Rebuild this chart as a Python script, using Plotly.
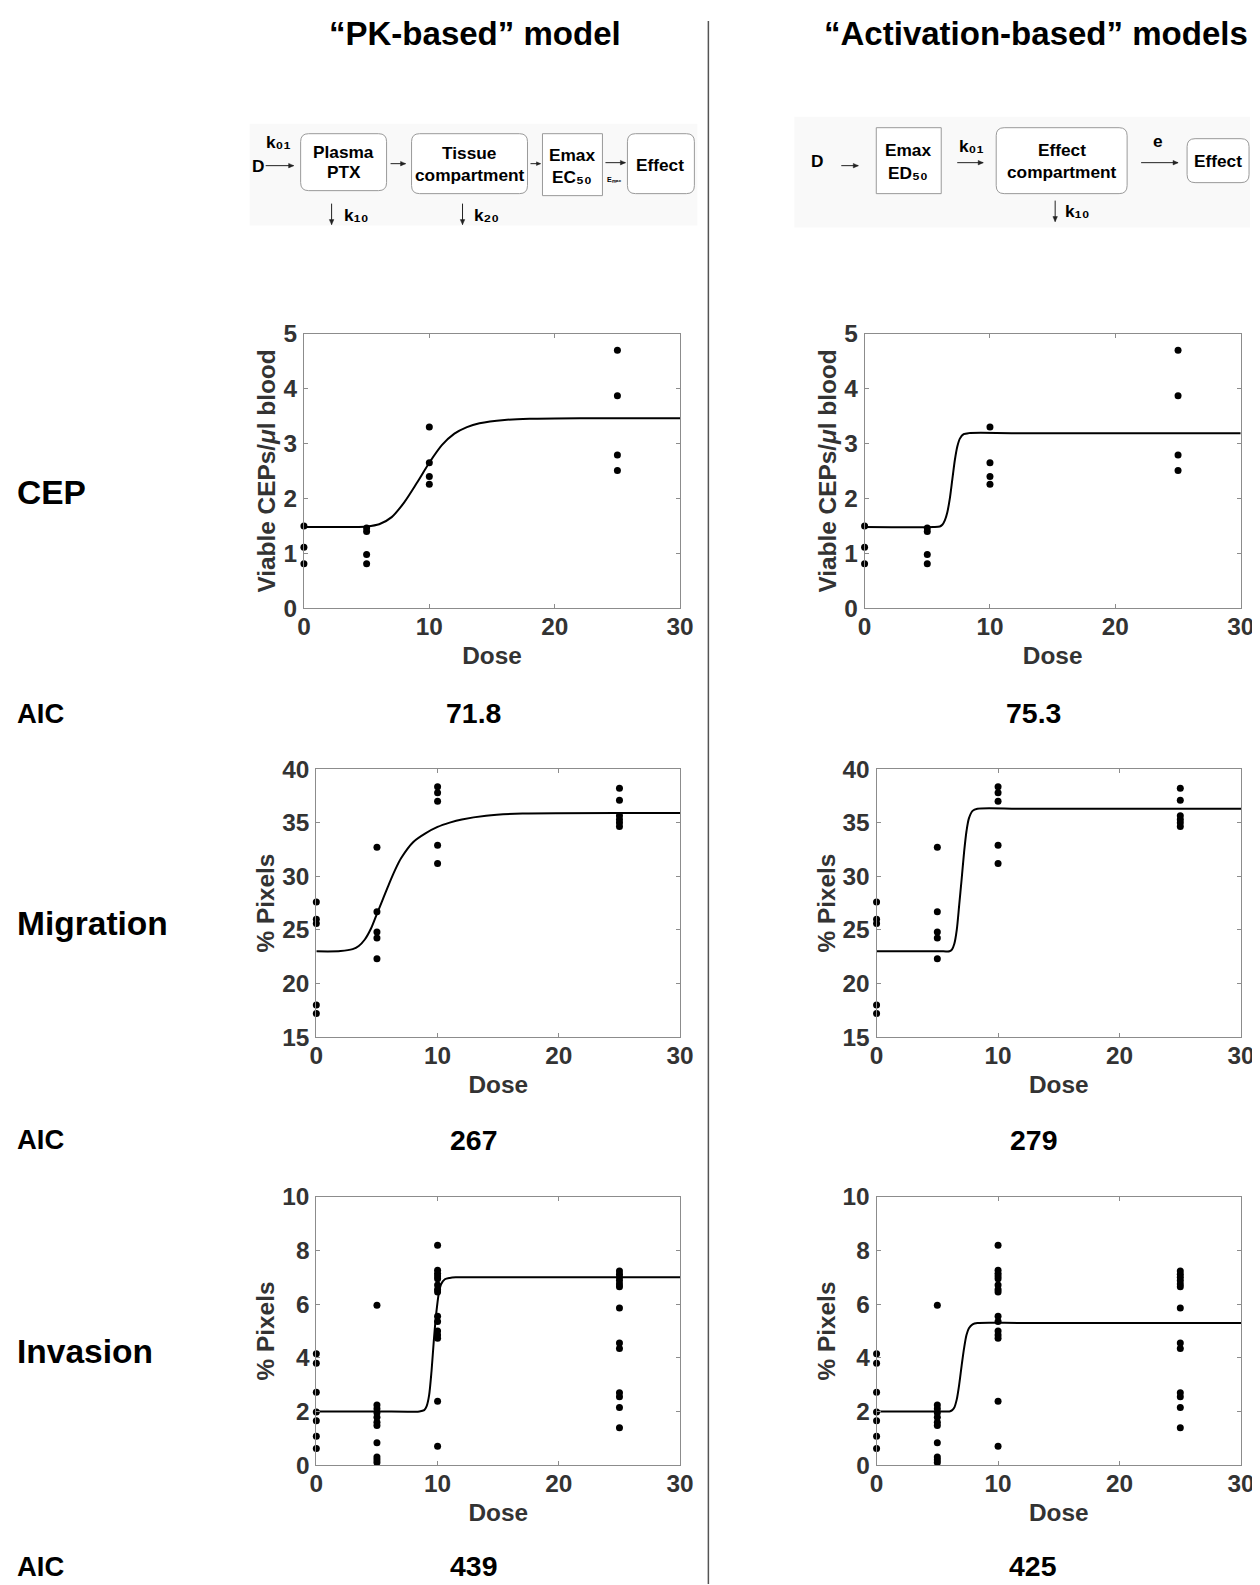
import plotly.graph_objects as go

# figure size, and the measured placement of the figure in the photographed page
W, H = 1265, 1590
OFFX, OFFY, S = 15.2, 21.2, 0.984
FONT = "Liberation Sans, Arial, Helvetica, sans-serif"

# ---------------- data ----------------
cep_dose = [0, 0, 0, 5, 5, 5, 5, 10, 10, 10, 10, 25, 25, 25, 25]
cep_obs = [1.50, 1.11, 0.81, 1.46, 1.40, 0.98, 0.81, 3.30, 2.65, 2.40, 2.26, 4.70, 3.87, 2.79, 2.51]

mig_dose = [0, 0, 0, 0, 0, 5, 5, 5, 5, 5, 10, 10, 10, 10, 10, 25, 25, 25, 25, 25, 25]
mig_obs = [27.6, 26.0, 25.6, 18.0, 17.2, 32.7, 26.7, 24.8, 24.25, 22.3,
           38.35, 37.8, 37.0, 32.9, 31.2, 38.2, 37.1, 35.65, 35.3, 35.0, 34.65]

inv_dose = [0] * 7 + [5] * 11 + [10] * 15 + [25] * 13
inv_obs = [4.15, 3.80, 2.72, 1.98, 1.65, 1.07, 0.62,
           5.96, 2.24, 2.10, 1.95, 1.78, 1.60, 1.48, 0.83, 0.30, 0.20, 0.10,
           8.20, 7.27, 7.15, 7.05, 6.95, 6.72, 6.55, 6.45, 5.55, 5.35, 5.00, 4.85, 4.73, 2.38, 0.70,
           7.24, 7.12, 7.00, 6.88, 6.75, 6.65, 5.86, 4.55, 4.35, 2.70, 2.55, 2.15, 1.39]

# fitted curves
pk_cep_x = [0, 2, 4, 5, 6, 7, 8, 9, 10, 11, 12, 13, 14, 16, 18, 22, 30]
pk_cep_y = [1.48, 1.48, 1.48, 1.49, 1.53, 1.66, 1.93, 2.28, 2.65, 2.97, 3.18, 3.30, 3.37, 3.43, 3.45, 3.46, 3.46]
act_cep_x = [0, 5.5, 6.0, 6.2, 6.4, 6.6, 6.8, 7.0, 7.2, 7.4, 7.6, 7.9, 8.3, 12, 30]
act_cep_y = [1.48, 1.48, 1.49, 1.52, 1.60, 1.75, 2.00, 2.35, 2.70, 2.95, 3.09, 3.17, 3.19, 3.19, 3.19]

pk_mig_x = [0, 2, 3, 3.5, 4, 4.5, 5, 5.5, 6, 6.5, 7, 8, 9, 10, 11, 12, 14, 17, 30]
pk_mig_y = [23.0, 23.02, 23.2, 23.5, 24.1, 25.1, 26.5, 27.9, 29.3, 30.6, 31.7, 33.2, 34.0, 34.6, 35.0, 35.3, 35.65, 35.85, 35.9]
act_mig_x = [0, 5.5, 6.0, 6.2, 6.4, 6.6, 6.8, 7.0, 7.2, 7.4, 7.6, 7.9, 8.3, 12, 30]
act_mig_y = [23.0, 23.0, 23.0, 23.15, 23.7, 25.0, 27.3, 29.7, 32.2, 34.2, 35.4, 36.1, 36.3, 36.3, 36.3]

pk_inv_x = [0, 5, 8.5, 8.9, 9.1, 9.3, 9.5, 9.7, 9.9, 10.1, 10.3, 10.6, 11.0, 11.5, 20, 30]
pk_inv_y = [2.0, 2.0, 2.0, 2.05, 2.2, 2.6, 3.5, 4.7, 5.7, 6.4, 6.75, 6.93, 6.98, 7.0, 7.0, 7.0]
act_inv_x = [0, 5.5, 6.0, 6.2, 6.4, 6.6, 6.8, 7.0, 7.2, 7.4, 7.6, 7.9, 8.3, 12, 30]
act_inv_y = [2.0, 2.0, 2.0, 2.04, 2.15, 2.45, 3.0, 3.7, 4.35, 4.85, 5.1, 5.25, 5.3, 5.3, 5.3]

x_ticks = [0, 10, 20, 30]
cep_ticks = [0, 1, 2, 3, 4, 5]
mig_ticks = [15, 20, 25, 30, 35, 40]
inv_ticks = [0, 2, 4, 6, 8, 10]

row_labels = ["CEP", "Migration", "Invasion"]
col_titles = ["\u201cPK-based\u201d model", "\u201cActivation-based\u201d models"]
aic_pk = ["71.8", "267", "439"]
aic_act = ["75.3", "279", "425"]

# ---------------- helpers (page pixel -> paper) ----------------
def X(px):
    return ((px - OFFX) / S) / W

def Y(py):
    return 1 - ((py - OFFY) / S) / H

def fs(v):
    return v / S

fig = go.Figure()

panels = [
    (cep_dose, cep_obs, pk_cep_x, pk_cep_y, [0, 5], cep_ticks, "Viable CEPs/<i>\u03bc</i>l blood", (304.3, 334.3, 680.7, 609.0)),
    (cep_dose, cep_obs, act_cep_x, act_cep_y, [0, 5], cep_ticks, "Viable CEPs/<i>\u03bc</i>l blood", (865.3, 334.3, 1241.7, 609.0)),
    (mig_dose, mig_obs, pk_mig_x, pk_mig_y, [15, 40], mig_ticks, "% Pixels", (316.7, 770.0, 680.7, 1038.3)),
    (mig_dose, mig_obs, act_mig_x, act_mig_y, [15, 40], mig_ticks, "% Pixels", (877.3, 770.0, 1242.0, 1038.3)),
    (inv_dose, inv_obs, pk_inv_x, pk_inv_y, [0, 10], inv_ticks, "% Pixels", (316.7, 1198.3, 680.7, 1466.7)),
    (inv_dose, inv_obs, act_inv_x, act_inv_y, [0, 10], inv_ticks, "% Pixels", (877.3, 1198.3, 1242.0, 1466.7)),
]

LINEC = "#8c8c8c"
TXTC = "#333333"
axis_common = dict(
    showline=True, linecolor=LINEC, linewidth=1, mirror="ticks",
    ticks="inside", ticklen=4, tickcolor=LINEC, tickwidth=1,
    showgrid=False, zeroline=False, fixedrange=True,
    tickfont=dict(family=FONT, size=fs(24), color=TXTC, weight="bold"),
)

layout_axes = {}
for i, (xd, yd, cx, cy, yr, yt, ytitle, box) in enumerate(panels):
    n = i + 1
    xa = "x" if n == 1 else f"x{n}"
    ya = "y" if n == 1 else f"y{n}"
    x0, y0, x1, y1 = box
    fig.add_trace(go.Scatter(x=cx, y=cy, mode="lines", line=dict(color="black", width=2, shape="spline", smoothing=0.8),
                             xaxis=xa, yaxis=ya, showlegend=False, hoverinfo="skip"))
    fig.add_trace(go.Scatter(x=xd, y=yd, mode="markers", marker=dict(color="black", size=7),
                             xaxis=xa, yaxis=ya, showlegend=False, cliponaxis=False))
    xkey = "xaxis" if n == 1 else f"xaxis{n}"
    ykey = "yaxis" if n == 1 else f"yaxis{n}"
    layout_axes[xkey] = dict(axis_common, domain=[X(x0), X(x1)], anchor=ya, range=[0, 30],
                             tickvals=x_ticks, ticklabelstandoff=-3,
                             title=dict(text="Dose", standoff=7,
                                        font=dict(family=FONT, size=fs(24), color=TXTC, weight="bold")))
    layout_axes[ykey] = dict(axis_common, domain=[Y(y1), Y(y0)], anchor=xa, range=yr,
                             tickvals=yt, ticklabelstandoff=1,
                             title=dict(text=ytitle, standoff=0,
                                        font=dict(family=FONT, size=fs(24), color=TXTC, weight="bold")))

fig.update_layout(**layout_axes)

ann = []
shapes = []

def text(px, py, s, size, xanchor="center", color="black"):
    ann.append(dict(x=X(px), y=Y(py), xref="paper", yref="paper", text=s, showarrow=False,
                    xanchor=xanchor, yanchor="middle",
                    font=dict(family=FONT, size=fs(size), color=color, weight="bold")))

def arrow(x0, y0, x1, y1, head=5):
    shapes.append(dict(type="line", xref="paper", yref="paper", x0=X(x0), y0=Y(y0), x1=X(x1), y1=Y(y1),
                       line=dict(color="#222222", width=1)))
    if y0 == y1:
        p = f"M {X(x1)},{Y(y1)} L {X(x1 - head)},{Y(y1 - head * 0.45)} L {X(x1 - head)},{Y(y1 + head * 0.45)} Z"
    else:
        p = f"M {X(x1)},{Y(y1)} L {X(x1 - head * 0.45)},{Y(y1 - head)} L {X(x1 + head * 0.45)},{Y(y1 - head)} Z"
    shapes.append(dict(type="path", path=p, xref="paper", yref="paper", fillcolor="#222222",
                       line=dict(color="#222222", width=0.5)))

def rrect(x0, y0, x1, y1, r=8, fill="white", line="#9a9a9a"):
    p = (f"M {X(x0 + r)},{Y(y0)} L {X(x1 - r)},{Y(y0)} Q {X(x1)},{Y(y0)} {X(x1)},{Y(y0 + r)} "
         f"L {X(x1)},{Y(y1 - r)} Q {X(x1)},{Y(y1)} {X(x1 - r)},{Y(y1)} "
         f"L {X(x0 + r)},{Y(y1)} Q {X(x0)},{Y(y1)} {X(x0)},{Y(y1 - r)} "
         f"L {X(x0)},{Y(y0 + r)} Q {X(x0)},{Y(y0)} {X(x0 + r)},{Y(y0)} Z")
    shapes.append(dict(type="path", path=p, xref="paper", yref="paper",
                       fillcolor=fill, line=dict(color=line, width=1)))

def rect(x0, y0, x1, y1, fill="white", line="#9a9a9a", lw=1):
    shapes.append(dict(type="rect", xref="paper", yref="paper", x0=X(x0), x1=X(x1), y0=Y(y1), y1=Y(y0),
                       fillcolor=fill, line=dict(color=line, width=lw)))

# diagram backgrounds
rect(250, 124, 698, 226, fill="#f9f9f9", line="rgba(0,0,0,0)", lw=0)
rect(795, 117, 1251, 228, fill="#f9f9f9", line="rgba(0,0,0,0)", lw=0)

# divider
shapes.append(dict(type="line", xref="paper", yref="paper", x0=X(709), x1=X(709), y0=1, y1=0,
                   line=dict(color="#555555", width=1.5)))

# column titles (as high as the page allows)
text(475, 34, col_titles[0], 32.5)
text(1037, 34, col_titles[1], 32.5)

# row labels and AIC
text(15.5, 493, row_labels[0], 33, xanchor="left")
text(15.5, 925, row_labels[1], 33, xanchor="left")
text(15.5, 1353, row_labels[2], 33, xanchor="left")
for py, a, b in zip([714, 1141, 1568], aic_pk, aic_act):
    text(15.5, py, "AIC", 27, xanchor="left")
    text(474, py, a, 28)
    text(1034, py, b, 28)

# ---- left diagram (PK-based) ----
text(279, 142, "k\u2080\u2081", 17)
text(258, 166, "D", 17)
arrow(266, 166, 294, 166)
rrect(301, 134, 387, 191)
text(344, 152, "Plasma", 17)
text(344, 172, "PTX", 17)
arrow(391, 164, 406, 164)
rrect(412, 134, 528, 194)
text(470, 153, "Tissue", 17)
text(470, 175, "compartment", 17)
arrow(531, 164, 541, 164, head=4)
rect(543, 134, 603, 196)
text(573, 155, "Emax", 17)
text(573, 177, "EC\u2085\u2080", 17)
arrow(606, 163, 626, 163)
text(615, 180, "E\u2098\u2090\u2093", 7)
rrect(628, 134, 695, 194)
text(661, 165, "Effect", 17)
arrow(332, 204, 332, 225)
text(357, 215, "k\u2081\u2080", 17)
arrow(463, 204, 463, 225)
text(487, 215, "k\u2082\u2080", 17)

# ---- right diagram (activation-based) ----
text(818, 161, "D", 17)
arrow(842, 166, 859, 166)
rect(877, 128, 942, 194)
text(909, 150, "Emax", 17)
text(909, 173, "ED\u2085\u2080", 17)
text(972, 146, "k\u2080\u2081", 17)
arrow(958, 163, 984, 163)
rrect(997, 128, 1128, 194)
text(1063, 150, "Effect", 17)
text(1063, 172, "compartment", 17)
arrow(1056, 201, 1056, 222)
text(1078, 211, "k\u2081\u2080", 17)
text(1159, 141, "e", 17)
arrow(1142, 163, 1179, 163)
rrect(1188, 139, 1250, 183)
text(1219, 161, "Effect", 17)

fig.update_layout(
    width=W, height=H, margin=dict(l=0, r=0, t=0, b=0),
    paper_bgcolor="white", plot_bgcolor="white",
    annotations=ann, shapes=shapes, showlegend=False,
)

fig.write_html("out.html")
